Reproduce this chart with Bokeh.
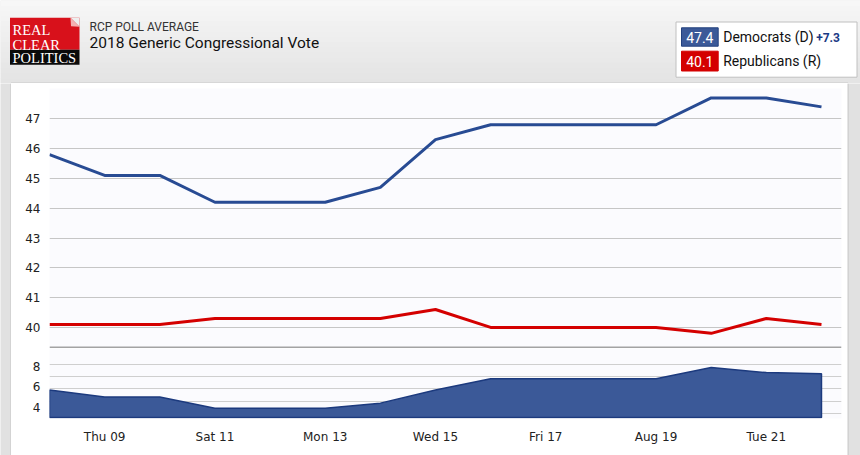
from bokeh.plotting import figure
from bokeh.layouts import column, row
from bokeh.models import Range1d, FixedTicker, Span
from bokeh.core.properties import value
from bokeh.embed import file_html
from bokeh.resources import INLINE

# ---------------- data ----------------
days = [8, 9, 10, 11, 12, 13, 14, 15, 16, 17, 18, 19, 20, 21, 22]
dem = [45.8, 45.1, 45.1, 44.2, 44.2, 44.2, 44.7, 46.3, 46.8, 46.8, 46.8, 46.8, 47.7, 47.7, 47.4]
rep = [40.1, 40.1, 40.1, 40.3, 40.3, 40.3, 40.3, 40.6, 40.0, 40.0, 40.0, 40.0, 39.8, 40.3, 40.1]
spread = [round(d - r, 1) for d, r in zip(dem, rep)]

tick_days = [9, 11, 13, 15, 17, 19, 21]
tick_labels = ["Thu 09", "Sat 11", "Mon 13", "Wed 15", "Fri 17", "Aug 19", "Tue 21"]
top_ticks = [40, 41, 42, 43, 44, 45, 46, 47]
spread_ticks = [4, 6, 8]
spread_grid = [3.4, 4.6, 5.8, 7.0, 8.2]
spread_base = 3

kicker = "RCP POLL AVERAGE"
title = "2018 Generic Congressional Vote"
dem_name = "Democrats (D)"
rep_name = "Republicans (R)"

# ---------------- styles ----------------
DEM_LINE = "#284b93"
DEM_FILL = "#3b5998"
DEM_EDGE = "#1c3a7e"
REP = "#d40000"
PLOT_BG = "#fbfbfe"
GRID = "#c6c6c6"
OUTER = "#e1e1e1"
PANEL_EDGE = "#c4c4c4"
LABEL_FONT = "DejaVu Sans"
W = 860
HDR_H = 83
LSTRIP, RSTRIP = 11, 13
PANE_W = W - LSTRIP - RSTRIP
LEFT, RIGHT = 38, 6
TOP_H, BOT_H = 265, 107

x_range = Range1d(8, 22.363)


def strip(width, edge_x):
    s = figure(width=width, height=TOP_H + BOT_H, x_range=Range1d(0, width),
               y_range=Range1d(0, TOP_H + BOT_H), x_axis_location=None, y_axis_location=None,
               toolbar_location=None, output_backend="svg", min_border=0,
               outline_line_color=None)
    s.frame_align = False
    s.grid.visible = False
    s.background_fill_color = OUTER
    s.border_fill_color = OUTER
    s.line(x=[edge_x, edge_x], y=[0, TOP_H + BOT_H], line_color=PANEL_EDGE, line_width=1)
    return s


def style_axis(ax, standoff):
    ax.axis_line_color = None
    ax.major_tick_line_color = None
    ax.minor_tick_line_color = None
    ax.major_tick_out = 0
    ax.major_tick_in = 0
    ax.minor_tick_out = 0
    ax.major_label_standoff = standoff
    ax.major_label_text_font = LABEL_FONT
    ax.major_label_text_font_size = "12px"
    ax.major_label_text_color = "#222222"


# ---------------- header ----------------
hdr = figure(width=W, height=HDR_H, x_range=Range1d(0, W), y_range=Range1d(HDR_H, 0),
             x_axis_location=None, y_axis_location=None, toolbar_location=None,
             output_backend="svg", min_border=0, outline_line_color=None)
hdr.frame_align = False
hdr.grid.visible = False
hdr.background_fill_color = "#ececec"
hdr.border_fill_color = "#ececec"
nb = 16
for i in range(nb):
    c = int(247 - (247 - 228) * i / (nb - 1))
    hdr.quad(left=0, right=W, top=i * HDR_H / nb, bottom=(i + 1) * HDR_H / nb + 0.5,
             fill_color="#%02x%02x%02x" % (c, c, c), line_color=None)
hdr.line(x=[10.5, 847.5], y=[82.6, 82.6], line_color=PANEL_EDGE, line_width=1)

# logo
hdr.quad(left=9.5, right=79, top=17.3, bottom=49.3, fill_color="#d8111b", line_color=None)
hdr.quad(left=9.5, right=79, top=49.3, bottom=64.3, fill_color="#0a0a0a", line_color=None)
hdr.patch(x=[70, 79, 79], y=[17.3, 17.3, 26.3], fill_color="#eeeeee", line_color=None)
hdr.patch(x=[70, 79, 70.5], y=[17.3, 26.3, 25.8], fill_color="#f4b0b0", line_color=None)
hdr.text(x=[12, 12, 12], y=[29.5, 44.6, 57.2], text=["REAL", "CLEAR", "POLITICS"],
         text_font=value("Liberation Serif"), text_font_size="14.5px",
         text_color="white", text_baseline="middle")

# titles
hdr.text(x=[89], y=[26.7], text=[kicker], text_font=value("Roboto"), text_font_size="12px",
         text_color="#333333", text_baseline="middle")
hdr.text(x=[89], y=[42.3], text=[title], text_font=value("Roboto"), text_font_size="15.5px",
         text_color="#111111", text_baseline="middle")

# legend
hdr.quad(left=675.5, right=856.5, top=21.5, bottom=76.7, fill_color="white", line_color="#c0c0c0")
hdr.quad(left=681, right=717.7, top=27.3, bottom=45.7, fill_color=DEM_FILL, line_color="#23407e")
hdr.quad(left=681, right=717.7, top=50.7, bottom=70.5, fill_color=REP, line_color=REP)
hdr.text(x=[699.3, 699.3], y=[36.7, 60.8], text=["%.1f" % dem[-1], "%.1f" % rep[-1]],
         text_font=value("Roboto"), text_font_size="14px", text_color="white",
         text_align="center", text_baseline="middle")
hdr.text(x=[722.7, 722.7], y=[36.7, 60.8], text=[dem_name, rep_name],
         text_font=value("Roboto"), text_font_size="14px", text_color="#111111",
         text_baseline="middle")
hdr.text(x=[815.7], y=[37], text=["+%.1f" % (dem[-1] - rep[-1])],
         text_font=value("Roboto"), text_font_size="12px", text_font_style="bold",
         text_color="#1a3a85", text_baseline="middle")

# ---------------- top pane ----------------
top = figure(width=PANE_W, height=TOP_H, x_range=x_range, y_range=Range1d(39.292, 48.017),
             x_axis_location=None, toolbar_location=None, output_backend="svg",
             min_border_left=LEFT, min_border_right=RIGHT, min_border_top=5, min_border_bottom=0,
             outline_line_color=None)
top.background_fill_color = PLOT_BG
top.border_fill_color = "white"
top.xgrid.visible = False
top.ygrid.ticker = FixedTicker(ticks=top_ticks)
top.ygrid.grid_line_color = GRID
top.yaxis.ticker = FixedTicker(ticks=top_ticks)
style_axis(top.yaxis[0], 9)

top.line(days, dem, line_color=DEM_LINE, line_width=3)
top.line(days, rep, line_color=REP, line_width=3)
top.add_layout(Span(location=39.292, dimension="width", line_color="#a3a3a3", line_width=4))

# ---------------- spread pane ----------------
bot = figure(width=PANE_W, height=BOT_H, x_range=x_range, y_range=Range1d(2.89, 9.77),
             toolbar_location=None, output_backend="svg",
             min_border_left=LEFT, min_border_right=RIGHT, min_border_top=0, min_border_bottom=37,
             outline_line_color=None)
bot.background_fill_color = PLOT_BG
bot.border_fill_color = "white"
bot.xgrid.visible = False
bot.ygrid.ticker = FixedTicker(ticks=spread_grid)
bot.ygrid.grid_line_color = "#cfcfcf"
bot.yaxis.ticker = FixedTicker(ticks=spread_ticks)
bot.xaxis.ticker = FixedTicker(ticks=tick_days)
bot.xaxis.major_label_overrides = dict(zip(tick_days, tick_labels))
style_axis(bot.xaxis[0], 11)
style_axis(bot.yaxis[0], 9)

bot.patch(x=days + days[::-1], y=spread + [spread_base] * len(days),
          fill_color=DEM_FILL, line_color=DEM_EDGE, line_width=1.5)

layout = column(hdr, row(strip(LSTRIP, 10.5), column(top, bot, spacing=0),
                         strip(RSTRIP, 0.5), spacing=0), spacing=0)
open("out.html", "w").write(file_html(layout, INLINE))
